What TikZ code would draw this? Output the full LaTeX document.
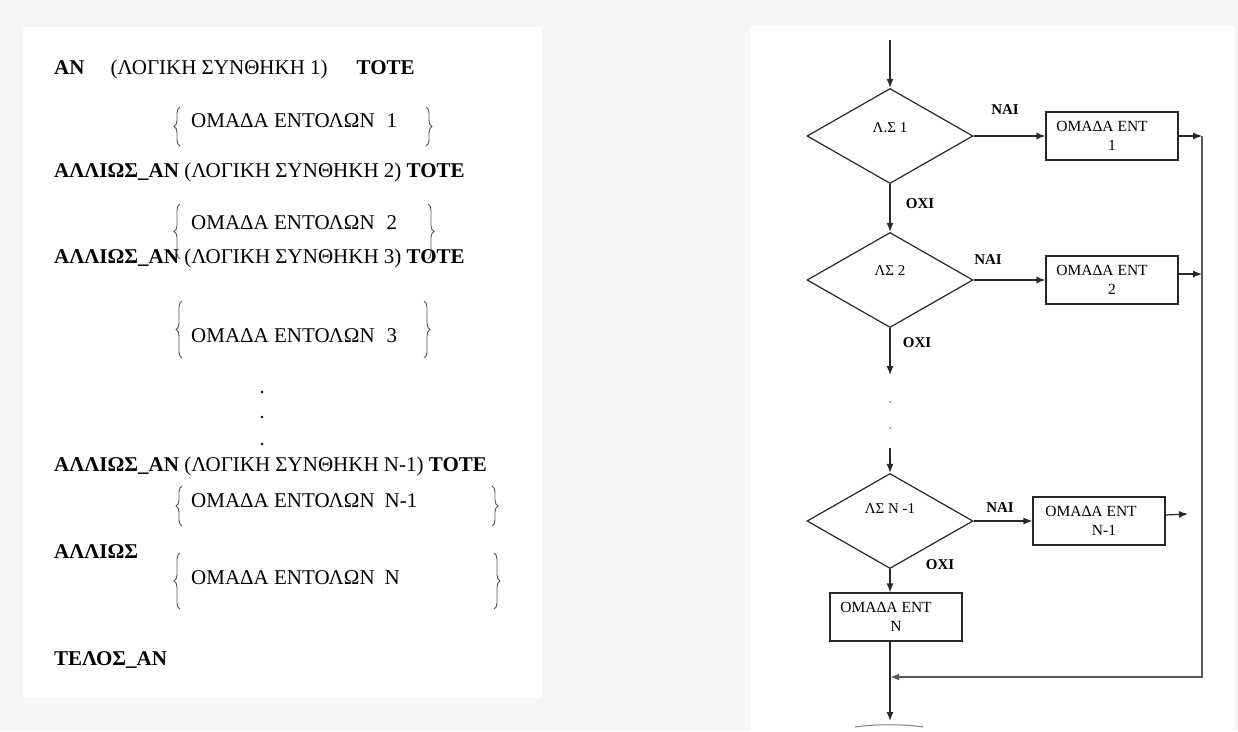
\documentclass[tikz,border=0pt]{standalone}
\usepackage{fontspec}
\setmainfont{Liberation Serif}
\definecolor{PanelGray}{RGB}{245,245,245}
\definecolor{LineDark}{RGB}{40,40,40}
\definecolor{BraceGray}{RGB}{85,85,85}
\usetikzlibrary{shapes.geometric, arrows.meta, decorations.pathreplacing}

\begin{document}
\begin{tikzpicture}[x=1pt, y=-1pt]
        % Styles for both panels
        \tikzset{
          pline/.style={font=\fontsize{21}{25}\selectfont, anchor=base west, inner sep=0},
          brc/.style={decorate, decoration={brace, amplitude=6pt}, BraceGray, line width=0.9pt},
          decision/.style={diamond, aspect=1.75, draw=LineDark, line width=1.2pt, minimum width=166pt,
                           minimum height=95pt, inner sep=0, font=\fontsize{15}{17}\selectfont},
          proc/.style={rectangle, draw=LineDark, line width=1.2pt, minimum width=132pt, minimum height=48pt,
                       align=center, inner sep=0, font=\fontsize{15.5}{19}\selectfont},
          flow/.style={LineDark, line width=1.2pt, -{Latex[length=9pt, width=7pt]}},
          rail/.style={gray!70!black, line width=1.8pt, -{Latex[length=9pt, width=7pt]}},
          lab/.style={font=\fontsize{15}{15}\selectfont\bfseries}
        }

        % Background and panels
        \useasboundingbox (0,0) rectangle (1238,731);
        \fill[PanelGray] (0,0) rectangle (1238,731);
        \fill[white] (23,27) rectangle (542,698);
        \fill[white] (750,26) rectangle (1235,731);

        % Left panel: pseudocode
        \node[pline] (if1) at (54,74) {\textbf{ΑΝ}\hspace{26pt}(ΛΟΓΙΚΗ ΣΥΝΘΗΚΗ 1)\hspace{29pt}\textbf{ΤΟΤΕ}};
        \node[pline] (grp1) at (191,127) {ΟΜΑΔΑ ΕΝΤΟΛΩΝ\hspace{12pt}1};
        \node[pline] (elif2) at (54,177) {\textbf{ΑΛΛΙΩΣ\_ΑΝ} (ΛΟΓΙΚΗ ΣΥΝΘΗΚΗ 2) \textbf{ΤΟΤΕ}};
        \node[pline] (grp2) at (191,229) {ΟΜΑΔΑ ΕΝΤΟΛΩΝ\hspace{12pt}2};
        \node[pline] (elif3) at (54,263) {\textbf{ΑΛΛΙΩΣ\_ΑΝ} (ΛΟΓΙΚΗ ΣΥΝΘΗΚΗ 3) \textbf{ΤΟΤΕ}};
        \node[pline] (grp3) at (191,342) {ΟΜΑΔΑ ΕΝΤΟΛΩΝ\hspace{12pt}3};
        \foreach \y in {392,417,444}
          \fill (262,\y) circle (1.4);
        \node[pline] (elifn1) at (54,471) {\textbf{ΑΛΛΙΩΣ\_ΑΝ} (ΛΟΓΙΚΗ ΣΥΝΘΗΚΗ Ν-1) \textbf{ΤΟΤΕ}};
        \node[pline] (grpn1) at (191,507) {ΟΜΑΔΑ ΕΝΤΟΛΩΝ\hspace{10pt}Ν-1};
        \node[pline] (else) at (54,558) {\textbf{ΑΛΛΙΩΣ}};
        \node[pline] (grpn) at (191,584) {ΟΜΑΔΑ ΕΝΤΟΛΩΝ\hspace{10pt}Ν};
        \node[pline] (endif) at (54,665) {\textbf{ΤΕΛΟΣ\_ΑΝ}};

        % Braces round the command groups
        \draw[brc] (180,146) -- (180,107);
        \draw[brc] (426,107) -- (426,146);
        \draw[brc] (180,259) -- (180,204);
        \draw[brc] (428,204) -- (428,259);
        \draw[brc] (182,358) -- (182,301);
        \draw[brc] (424,301) -- (424,358);
        \draw[brc] (182,526) -- (182,486);
        \draw[brc] (492,486) -- (492,526);
        \draw[brc] (180,609) -- (180,553);
        \draw[brc] (494,553) -- (494,609);

        % Right panel: flowchart
        \coordinate (entry) at (890,40);
        \node[decision] (d1) at (890,136) {\raisebox{4pt}[0pt][0pt]{Λ.Σ 1}};
        \node[decision] (d2) at (890,280) {\raisebox{5pt}[0pt][0pt]{ΛΣ 2}};
        \node[decision] (dn1) at (890,521) {\raisebox{8pt}[0pt][0pt]{ΛΣ Ν -1}};

        \node[proc] (b1) at (1112,136) {ΟΜΑΔΑ ΕΝΤ\hspace*{20pt}\\1};
        \node[proc] (b2) at (1112,280) {ΟΜΑΔΑ ΕΝΤ\hspace*{20pt}\\2};
        \node[proc] (bn1) at (1099,521) {ΟΜΑΔΑ ΕΝΤ\hspace*{16pt}\\\hspace*{10pt}Ν-1};
        \node[proc] (bn) at (896,617) {ΟΜΑΔΑ ΕΝΤ\hspace*{20pt}\\Ν};

        \node[lab] (yes1) at (1005,110) {ΝΑΙ};
        \node[lab] (yes2) at (988,260) {ΝΑΙ};
        \node[lab] (yesn1) at (1000,508) {ΝΑΙ};
        \node[lab] (no1) at (920,204) {ΟΧΙ};
        \node[lab] (no2) at (917,343) {ΟΧΙ};
        \node[lab] (non1) at (940,565) {ΟΧΙ};

        \coordinate (gap1) at (890,375);
        \coordinate (gap2) at (890,448);
        \coordinate (r1) at (1202,136);
        \coordinate (r2) at (1202,274);
        \coordinate (rn1) at (1188,514);
        \coordinate (rbot) at (1202,677);
        \coordinate (merge) at (890,677);
        \coordinate (stop) at (890,721);

        \foreach \y in {402,428}
          \fill[gray] (890,\y) circle (1);

        % Connectors
        \draw[flow] (entry) -- (d1);
        \draw[flow] (d1) -- (d2);
        \draw[flow] (d2) -- (gap1);
        \draw[flow] (gap2) -- (dn1);
        \draw[flow] (dn1) -- (dn1 |- bn.north);
        \draw[flow] (d1) -- (b1);
        \draw[flow] (d2) -- (b2);
        \draw[flow] (dn1) -- (bn1);
        \draw[flow] (b1) -- (r1);
        \draw[flow] ([yshift=6pt]b2.east) -- (r2);
        \draw[flow] ([yshift=6pt]bn1.east) -- (rn1);
        \draw[rail] (r1) -- (rbot) -- (merge);
        \draw[flow] (bn.south -| stop) -- (stop);

        % Edge of the cut-off end shape
        \draw[gray, line width=1pt] (855,727) .. controls (875,724) and (905,724) .. (923,727);
      \end{tikzpicture}
\end{document}
